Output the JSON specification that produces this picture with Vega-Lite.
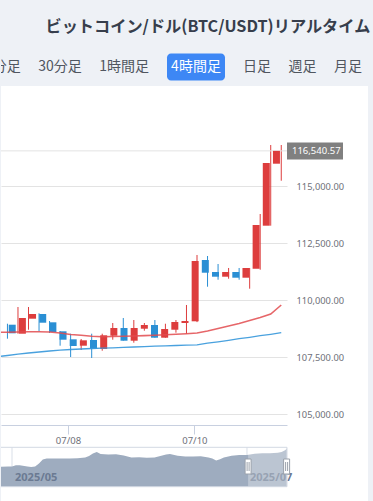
{
  "$schema": "https://vega.github.io/schema/vega-lite/v6.json",
  "background": "#eef1f6",
  "padding": {"top": 19, "left": 0, "right": 0, "bottom": 0},
  "config": {"view": {"stroke": null}, "font": "Noto Sans"},
  "title": {"text": "ビットコイン/ドル(BTC/USDT)リアルタイム", "anchor": "start", "dx": 45, "offset": 12.8, "fontSize": 16.2, "font": "Noto Sans CJK JP", "fontWeight": "bold", "color": "#373e4c"},
  "spacing": 0,
  "datasets": {
    "tabs": [
      {"g": "L", "label": "5分足\u2003\u200530分足\u2003\u20051時間足"},
      {"g": "S", "label": "4時間足"},
      {"g": "R", "label": "日足\u2003\u2005週足\u2003\u2005月足"}
    ],
    "candles": [
      {"t": "2025-07-07T01:00:00Z", "o": 108917, "h": 108960, "l": 108303, "c": 108540},
      {"t": "2025-07-07T05:00:00Z", "o": 108522, "h": 109693, "l": 108522, "c": 109211},
      {"t": "2025-07-07T09:00:00Z", "o": 109180, "h": 109693, "l": 108697, "c": 109386},
      {"t": "2025-07-07T13:00:00Z", "o": 109386, "h": 109416, "l": 108627, "c": 109004},
      {"t": "2025-07-07T17:00:00Z", "o": 109022, "h": 109079, "l": 108553, "c": 108596},
      {"t": "2025-07-07T21:00:00Z", "o": 108627, "h": 108640, "l": 107996, "c": 108259},
      {"t": "2025-07-08T01:00:00Z", "o": 108276, "h": 108522, "l": 107500, "c": 107982},
      {"t": "2025-07-08T05:00:00Z", "o": 107996, "h": 108289, "l": 107807, "c": 108232},
      {"t": "2025-07-08T09:00:00Z", "o": 108246, "h": 108522, "l": 107456, "c": 107864},
      {"t": "2025-07-08T13:00:00Z", "o": 107851, "h": 108522, "l": 107776, "c": 108452},
      {"t": "2025-07-08T17:00:00Z", "o": 108434, "h": 108991, "l": 108259, "c": 108772},
      {"t": "2025-07-08T21:00:00Z", "o": 108772, "h": 109211, "l": 108215, "c": 108215},
      {"t": "2025-07-09T01:00:00Z", "o": 108215, "h": 109123, "l": 108127, "c": 108772},
      {"t": "2025-07-09T05:00:00Z", "o": 108741, "h": 108991, "l": 108653, "c": 108904},
      {"t": "2025-07-09T09:00:00Z", "o": 108904, "h": 109123, "l": 108347, "c": 108347},
      {"t": "2025-07-09T13:00:00Z", "o": 108347, "h": 108960, "l": 108347, "c": 108728},
      {"t": "2025-07-09T17:00:00Z", "o": 108697, "h": 109123, "l": 108566, "c": 109035},
      {"t": "2025-07-09T21:00:00Z", "o": 108991, "h": 109781, "l": 108522, "c": 109079},
      {"t": "2025-07-10T01:00:00Z", "o": 109066, "h": 111974, "l": 109030, "c": 111711},
      {"t": "2025-07-10T05:00:00Z", "o": 111754, "h": 111930, "l": 110583, "c": 111197},
      {"t": "2025-07-10T09:00:00Z", "o": 111228, "h": 111579, "l": 110890, "c": 111022},
      {"t": "2025-07-10T13:00:00Z", "o": 111022, "h": 111404, "l": 110934, "c": 111228},
      {"t": "2025-07-10T17:00:00Z", "o": 111228, "h": 111404, "l": 110890, "c": 110978},
      {"t": "2025-07-10T21:00:00Z", "o": 110978, "h": 111404, "l": 110496, "c": 111404},
      {"t": "2025-07-11T01:00:00Z", "o": 111373, "h": 113772, "l": 111329, "c": 113290},
      {"t": "2025-07-11T05:00:00Z", "o": 113259, "h": 116798, "l": 113259, "c": 116009},
      {"t": "2025-07-11T09:00:00Z", "o": 115978, "h": 116798, "l": 115232, "c": 116540.57}
    ],
    "ma": [
      {"t": "2025-07-06T21:00:00Z", "ma1": 108583, "ma2": 107513},
      {"t": "2025-07-07T01:00:00Z", "ma1": 108588, "ma2": 107566},
      {"t": "2025-07-07T05:00:00Z", "ma1": 108597, "ma2": 107623},
      {"t": "2025-07-07T09:00:00Z", "ma1": 108605, "ma2": 107675},
      {"t": "2025-07-07T13:00:00Z", "ma1": 108605, "ma2": 107719},
      {"t": "2025-07-07T17:00:00Z", "ma1": 108597, "ma2": 107763},
      {"t": "2025-07-07T21:00:00Z", "ma1": 108553, "ma2": 107798},
      {"t": "2025-07-08T01:00:00Z", "ma1": 108487, "ma2": 107829},
      {"t": "2025-07-08T05:00:00Z", "ma1": 108452, "ma2": 107851},
      {"t": "2025-07-08T09:00:00Z", "ma1": 108408, "ma2": 107873},
      {"t": "2025-07-08T13:00:00Z", "ma1": 108390, "ma2": 107886},
      {"t": "2025-07-08T17:00:00Z", "ma1": 108399, "ma2": 107904},
      {"t": "2025-07-08T21:00:00Z", "ma1": 108412, "ma2": 107921},
      {"t": "2025-07-09T01:00:00Z", "ma1": 108421, "ma2": 107939},
      {"t": "2025-07-09T05:00:00Z", "ma1": 108439, "ma2": 107956},
      {"t": "2025-07-09T09:00:00Z", "ma1": 108456, "ma2": 107974},
      {"t": "2025-07-09T13:00:00Z", "ma1": 108474, "ma2": 107991},
      {"t": "2025-07-09T17:00:00Z", "ma1": 108496, "ma2": 108004},
      {"t": "2025-07-09T21:00:00Z", "ma1": 108522, "ma2": 108018},
      {"t": "2025-07-10T01:00:00Z", "ma1": 108553, "ma2": 108035},
      {"t": "2025-07-10T05:00:00Z", "ma1": 108640, "ma2": 108105},
      {"t": "2025-07-10T09:00:00Z", "ma1": 108750, "ma2": 108167},
      {"t": "2025-07-10T13:00:00Z", "ma1": 108860, "ma2": 108232},
      {"t": "2025-07-10T17:00:00Z", "ma1": 108969, "ma2": 108303},
      {"t": "2025-07-10T21:00:00Z", "ma1": 109101, "ma2": 108364},
      {"t": "2025-07-11T01:00:00Z", "ma1": 109232, "ma2": 108434},
      {"t": "2025-07-11T05:00:00Z", "ma1": 109386, "ma2": 108496},
      {"t": "2025-07-11T09:00:00Z", "ma1": 109781, "ma2": 108566}
    ],
    "last": [{"price": 116540.57}],
    "shadow": [
      {"t": "2025-04-28T00:00:00Z", "v": 95000},
      {"t": "2025-04-30T00:00:00Z", "v": 95200},
      {"t": "2025-05-01T00:00:00Z", "v": 95100},
      {"t": "2025-05-02T00:00:00Z", "v": 96500},
      {"t": "2025-05-03T00:00:00Z", "v": 96500},
      {"t": "2025-05-05T00:00:00Z", "v": 95100},
      {"t": "2025-05-06T00:00:00Z", "v": 94700},
      {"t": "2025-05-07T00:00:00Z", "v": 95200},
      {"t": "2025-05-08T00:00:00Z", "v": 98200},
      {"t": "2025-05-09T00:00:00Z", "v": 102200},
      {"t": "2025-05-10T00:00:00Z", "v": 103200},
      {"t": "2025-05-12T00:00:00Z", "v": 103200},
      {"t": "2025-05-14T00:00:00Z", "v": 103300},
      {"t": "2025-05-16T00:00:00Z", "v": 103100},
      {"t": "2025-05-18T00:00:00Z", "v": 103400},
      {"t": "2025-05-20T00:00:00Z", "v": 104100},
      {"t": "2025-05-21T00:00:00Z", "v": 105700},
      {"t": "2025-05-22T00:00:00Z", "v": 108200},
      {"t": "2025-05-23T00:00:00Z", "v": 109700},
      {"t": "2025-05-24T00:00:00Z", "v": 107700},
      {"t": "2025-05-26T00:00:00Z", "v": 107200},
      {"t": "2025-05-28T00:00:00Z", "v": 107400},
      {"t": "2025-05-30T00:00:00Z", "v": 106200},
      {"t": "2025-06-01T00:00:00Z", "v": 104200},
      {"t": "2025-06-03T00:00:00Z", "v": 104400},
      {"t": "2025-06-05T00:00:00Z", "v": 103900},
      {"t": "2025-06-07T00:00:00Z", "v": 104200},
      {"t": "2025-06-09T00:00:00Z", "v": 106200},
      {"t": "2025-06-10T00:00:00Z", "v": 107100},
      {"t": "2025-06-11T00:00:00Z", "v": 107700},
      {"t": "2025-06-13T00:00:00Z", "v": 105900},
      {"t": "2025-06-15T00:00:00Z", "v": 105200},
      {"t": "2025-06-17T00:00:00Z", "v": 105200},
      {"t": "2025-06-19T00:00:00Z", "v": 105400},
      {"t": "2025-06-21T00:00:00Z", "v": 104200},
      {"t": "2025-06-22T00:00:00Z", "v": 103200},
      {"t": "2025-06-23T00:00:00Z", "v": 101200},
      {"t": "2025-06-24T00:00:00Z", "v": 102400},
      {"t": "2025-06-25T00:00:00Z", "v": 104200},
      {"t": "2025-06-27T00:00:00Z", "v": 105900},
      {"t": "2025-06-29T00:00:00Z", "v": 106600},
      {"t": "2025-07-01T00:00:00Z", "v": 106700},
      {"t": "2025-07-03T00:00:00Z", "v": 107900},
      {"t": "2025-07-05T00:00:00Z", "v": 108400},
      {"t": "2025-07-07T00:00:00Z", "v": 108400},
      {"t": "2025-07-09T00:00:00Z", "v": 108900},
      {"t": "2025-07-10T00:00:00Z", "v": 109700},
      {"t": "2025-07-11T00:00:00Z", "v": 111700},
      {"t": "2025-07-11T08:00:00Z", "v": 113500}
    ],
    "months": [{"t": "2025-05-01T00:00:00Z"}, {"t": "2025-07-01T00:00:00Z"}],
    "sel": [{"s": "2025-07-01T07:00:00Z", "e": "2025-07-11T07:00:00Z"}],
    "handles": [{"t": "2025-07-01T07:00:00Z"}, {"t": "2025-07-11T07:00:00Z"}],
    "box": [{"name": "slider"}]
  },
  "vconcat": [
    {
      "width": 373,
      "height": 38,
      "data": {"name": "tabs"},
      "layer": [
        {
          "transform": [{"filter": "datum.g === 'S'"}],
          "mark": {"type": "point", "shape": "M-0.86207,-0.46552H0.86207A0.13793,0.13793 0 0 1 1,-0.32759V0.32759A0.13793,0.13793 0 0 1 0.86207,0.46552H-0.86207A0.13793,0.13793 0 0 1 -1,0.32759V-0.32759A0.13793,0.13793 0 0 1 -0.86207,-0.46552Z", "size": 3364, "filled": true, "color": "#3d87f5", "opacity": 1, "strokeWidth": 0},
          "encoding": {"x": {"field": "g", "type": "nominal", "scale": {"type": "point", "domain": ["L", "S", "R"], "range": [148, 242], "padding": 0}, "axis": null}}
        },
        {
          "transform": [{"filter": "datum.g === 'L'"}],
          "mark": {"type": "text", "align": "right", "baseline": "middle", "font": "Noto Sans CJK JP", "fontSize": 14, "color": "#50565f", "clip": true},
          "encoding": {"x": {"field": "g", "type": "nominal", "scale": {"type": "point", "domain": ["L", "S", "R"], "range": [148, 242], "padding": 0}, "axis": null}, "text": {"field": "label"}}
        },
        {
          "transform": [{"filter": "datum.g === 'S'"}],
          "mark": {"type": "text", "align": "center", "baseline": "middle", "font": "Noto Sans CJK JP", "fontSize": 14, "color": "#ffffff"},
          "encoding": {"x": {"field": "g", "type": "nominal", "scale": {"type": "point", "domain": ["L", "S", "R"], "range": [148, 242], "padding": 0}, "axis": null}, "text": {"field": "label"}}
        },
        {
          "transform": [{"filter": "datum.g === 'R'"}],
          "mark": {"type": "text", "align": "left", "baseline": "middle", "font": "Noto Sans CJK JP", "fontSize": 14, "color": "#50565f"},
          "encoding": {"x": {"field": "g", "type": "nominal", "scale": {"type": "point", "domain": ["L", "S", "R"], "range": [148, 242], "padding": 0}, "axis": null}, "text": {"field": "label"}}
        }
      ]
    },
    {
      "width": 367,
      "height": 415,
      "view": {"fill": "#ffffff", "stroke": null},
      "resolve": {"scale": {"x": "independent", "y": "independent"}, "axis": {"x": "independent", "y": "independent"}},
      "layer": [
        {
          "data": {"name": "candles"},
          "mark": {"type": "rule", "strokeWidth": 1, "clip": true},
          "encoding": {
            "x": {"field": "t", "type": "temporal", "scale": {"type": "utc", "domain": [{"year": 2025, "month": 7, "date": 6, "hours": 22, "minutes": 33, "utc": true}, {"year": 2025, "month": 7, "date": 11, "hours": 11, "minutes": 11, "utc": true}], "range": [0, 286]},
              "axis": {"orient": "bottom", "offset": -76, "title": null, "values": [{"year": 2025, "month": 7, "date": 8, "utc": true}, {"year": 2025, "month": 7, "date": 10, "utc": true}], "format": "%m/%d", "grid": false, "domainColor": "#c8d0e0", "tickColor": "#c8d0e0", "tickSize": 9, "labelPadding": 1, "labelColor": "#6e7079", "labelFontSize": 9.5, "labelFont": "Noto Sans"}},
            "y": {"field": "l", "type": "quantitative", "scale": {"domain": [104518, 117500], "range": [339, 43], "zero": false, "nice": false},
              "axis": {"orient": "left", "title": null, "values": [105000, 107500, 110000, 112500, 115000], "format": ",.2f", "grid": true, "gridColor": "#e3e3e3", "domain": false, "ticks": false, "tickSize": 0, "labelPadding": -295, "labelAlign": "left", "labelBaseline": "middle", "labelColor": "#6e7079", "labelFontSize": 9.3, "labelFont": "Noto Sans"}},
            "y2": {"field": "h"},
            "color": {"condition": {"test": "datum.c >= datum.o", "value": "#dd3d3d"}, "value": "#2a8fd4"}
          }
        },
        {
          "data": {"name": "last"},
          "mark": {"type": "rule", "color": "#e3e3e3", "strokeWidth": 1},
          "encoding": {
            "x": {"datum": {"year": 2025, "month": 7, "date": 6, "hours": 22, "minutes": 33, "utc": true}, "type": "temporal", "scale": {"type": "utc", "domain": [{"year": 2025, "month": 7, "date": 6, "hours": 22, "minutes": 33, "utc": true}, {"year": 2025, "month": 7, "date": 11, "hours": 11, "minutes": 11, "utc": true}], "range": [0, 286]}, "axis": null},
            "x2": {"datum": {"year": 2025, "month": 7, "date": 11, "hours": 11, "minutes": 11, "utc": true}},
            "y": {"field": "price", "type": "quantitative", "scale": {"domain": [104518, 117500], "range": [339, 43], "zero": false, "nice": false}, "axis": null}
          }
        },
        {
          "data": {"name": "candles"},
          "mark": {"type": "bar", "width": 7, "clip": true},
          "encoding": {
            "x": {"field": "t", "type": "temporal", "scale": {"type": "utc", "domain": [{"year": 2025, "month": 7, "date": 6, "hours": 22, "minutes": 33, "utc": true}, {"year": 2025, "month": 7, "date": 11, "hours": 11, "minutes": 11, "utc": true}], "range": [0, 286]}, "axis": null},
            "y": {"field": "o", "type": "quantitative", "scale": {"domain": [104518, 117500], "range": [339, 43], "zero": false, "nice": false}, "axis": null},
            "y2": {"field": "c"},
            "color": {"condition": {"test": "datum.c >= datum.o", "value": "#dd3d3d"}, "value": "#2a8fd4"}
          }
        },
        {
          "data": {"name": "ma"},
          "mark": {"type": "line", "color": "#e24b4f", "strokeWidth": 1.6, "opacity": 0.85, "clip": true},
          "encoding": {
            "x": {"field": "t", "type": "temporal", "scale": {"type": "utc", "domain": [{"year": 2025, "month": 7, "date": 6, "hours": 22, "minutes": 33, "utc": true}, {"year": 2025, "month": 7, "date": 11, "hours": 11, "minutes": 11, "utc": true}], "range": [0, 286]}, "axis": null},
            "y": {"field": "ma1", "type": "quantitative", "scale": {"domain": [104518, 117500], "range": [339, 43], "zero": false, "nice": false}, "axis": null}
          }
        },
        {
          "data": {"name": "ma"},
          "mark": {"type": "line", "color": "#3597da", "strokeWidth": 1.3, "opacity": 0.9, "clip": true},
          "encoding": {
            "x": {"field": "t", "type": "temporal", "scale": {"type": "utc", "domain": [{"year": 2025, "month": 7, "date": 6, "hours": 22, "minutes": 33, "utc": true}, {"year": 2025, "month": 7, "date": 11, "hours": 11, "minutes": 11, "utc": true}], "range": [0, 286]}, "axis": null},
            "y": {"field": "ma2", "type": "quantitative", "scale": {"domain": [104518, 117500], "range": [339, 43], "zero": false, "nice": false}, "axis": null}
          }
        },
        {
          "data": {"name": "last"},
          "mark": {"type": "point", "shape": "M0,-0.15179H1V0.15179H0Z", "size": 12544, "filled": true, "color": "#808080", "opacity": 1, "strokeWidth": 0},
          "encoding": {
            "x": {"datum": {"year": 2025, "month": 7, "date": 11, "hours": 11, "minutes": 11, "utc": true}, "type": "temporal", "scale": {"type": "utc", "domain": [{"year": 2025, "month": 7, "date": 6, "hours": 22, "minutes": 33, "utc": true}, {"year": 2025, "month": 7, "date": 11, "hours": 11, "minutes": 11, "utc": true}], "range": [0, 286]}, "axis": null},
            "y": {"field": "price", "type": "quantitative", "scale": {"domain": [104518, 117500], "range": [339, 43], "zero": false, "nice": false}, "axis": null}
          }
        },
        {
          "data": {"name": "last"},
          "mark": {"type": "text", "align": "left", "baseline": "middle", "dx": 5, "color": "#ffffff", "fontSize": 9.5, "font": "Noto Sans"},
          "encoding": {
            "x": {"datum": {"year": 2025, "month": 7, "date": 11, "hours": 11, "minutes": 11, "utc": true}, "type": "temporal", "scale": {"type": "utc", "domain": [{"year": 2025, "month": 7, "date": 6, "hours": 22, "minutes": 33, "utc": true}, {"year": 2025, "month": 7, "date": 11, "hours": 11, "minutes": 11, "utc": true}], "range": [0, 286]}, "axis": null},
            "y": {"field": "price", "type": "quantitative", "scale": {"domain": [104518, 117500], "range": [339, 43], "zero": false, "nice": false}, "axis": null},
            "text": {"field": "price", "type": "quantitative", "format": ",.2f"}
          }
        },
        {
          "data": {"name": "months"},
          "mark": {"type": "rule", "color": "#d9dfe8", "strokeWidth": 1, "clip": true},
          "encoding": {
            "x": {"field": "t", "type": "temporal", "scale": {"type": "utc", "domain": [{"year": 2025, "month": 4, "date": 28, "hours": 3, "minutes": 27, "utc": true}, {"year": 2025, "month": 7, "date": 11, "hours": 9, "minutes": 22, "utc": true}], "range": [0, 286]}, "axis": null},
            "y": {"datum": 75000, "type": "quantitative", "scale": {"domain": [75000, 114400], "range": [400.7, 361.3], "zero": false, "nice": false}, "axis": null},
            "y2": {"datum": 114400}
          }
        },
        {
          "data": {"name": "shadow"},
          "mark": {"type": "area", "color": "#9eacbf", "opacity": 1, "clip": true},
          "encoding": {
            "x": {"field": "t", "type": "temporal", "scale": {"type": "utc", "domain": [{"year": 2025, "month": 4, "date": 28, "hours": 3, "minutes": 27, "utc": true}, {"year": 2025, "month": 7, "date": 11, "hours": 9, "minutes": 22, "utc": true}], "range": [0, 286]}, "axis": null},
            "y": {"field": "v", "type": "quantitative", "scale": {"domain": [75000, 114400], "range": [400.7, 361.3], "zero": false, "nice": false}, "axis": null},
            "y2": {"datum": 75000}
          }
        },
        {
          "data": {"name": "months"},
          "mark": {"type": "text", "align": "left", "baseline": "middle", "dx": 3, "fontSize": 11, "fontWeight": "bold", "font": "Noto Sans", "color": "#6b7a92"},
          "encoding": {
            "x": {"field": "t", "type": "temporal", "scale": {"type": "utc", "domain": [{"year": 2025, "month": 4, "date": 28, "hours": 3, "minutes": 27, "utc": true}, {"year": 2025, "month": 7, "date": 11, "hours": 9, "minutes": 22, "utc": true}], "range": [0, 286]}, "axis": null},
            "y": {"datum": 83400, "type": "quantitative", "scale": {"domain": [75000, 114400], "range": [400.7, 361.3], "zero": false, "nice": false}, "axis": null},
            "text": {"field": "t", "type": "temporal", "timeUnit": "utcyearmonth", "format": "%Y/%m"}
          }
        },
        {
          "data": {"name": "sel"},
          "mark": {"type": "rect", "color": "#ffffff", "opacity": 0.3},
          "encoding": {
            "x": {"field": "s", "type": "temporal", "scale": {"type": "utc", "domain": [{"year": 2025, "month": 4, "date": 28, "hours": 3, "minutes": 27, "utc": true}, {"year": 2025, "month": 7, "date": 11, "hours": 9, "minutes": 22, "utc": true}], "range": [0, 286]}, "axis": null},
            "x2": {"field": "e"},
            "y": {"datum": 75000, "type": "quantitative", "scale": {"domain": [75000, 114400], "range": [400.7, 361.3], "zero": false, "nice": false}, "axis": null},
            "y2": {"datum": 114400}
          }
        },
        {
          "data": {"name": "box"},
          "mark": {"type": "rect", "fillOpacity": 0, "stroke": "#d3d9e3", "strokeWidth": 1, "clip": true},
          "encoding": {
            "x": {"datum": {"year": 2025, "month": 4, "date": 26, "utc": true}, "type": "temporal", "scale": {"type": "utc", "domain": [{"year": 2025, "month": 4, "date": 28, "hours": 3, "minutes": 27, "utc": true}, {"year": 2025, "month": 7, "date": 11, "hours": 9, "minutes": 22, "utc": true}], "range": [0, 286]}, "axis": null},
            "x2": {"datum": {"year": 2025, "month": 7, "date": 11, "hours": 9, "minutes": 22, "utc": true}},
            "y": {"datum": 75000, "type": "quantitative", "scale": {"domain": [75000, 114400], "range": [400.7, 361.3], "zero": false, "nice": false}, "axis": null},
            "y2": {"datum": 114400}
          }
        },
        {
          "data": {"name": "handles"},
          "mark": {"type": "point", "shape": "M-0.375,-0.9375H0.375V0.9375H-0.375Z M-0.125,-0.5625V0.5625 M0.125,-0.5625V0.5625", "size": 256, "filled": true, "fill": "#ffffff", "stroke": "#9aa1ab", "strokeWidth": 1, "opacity": 1},
          "encoding": {
            "x": {"field": "t", "type": "temporal", "scale": {"type": "utc", "domain": [{"year": 2025, "month": 4, "date": 28, "hours": 3, "minutes": 27, "utc": true}, {"year": 2025, "month": 7, "date": 11, "hours": 9, "minutes": 22, "utc": true}], "range": [0, 286]}, "axis": null},
            "y": {"datum": 95200, "type": "quantitative", "scale": {"domain": [75000, 114400], "range": [400.7, 361.3], "zero": false, "nice": false}, "axis": null}
          }
        }
      ]
    }
  ]
}
